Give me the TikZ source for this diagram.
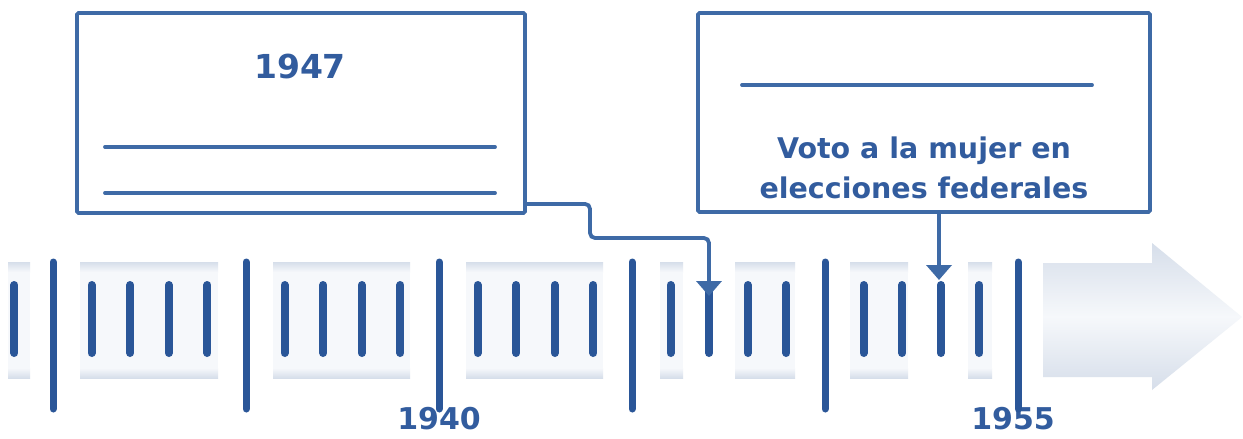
\documentclass[tikz,border=0pt]{standalone}
\usepackage{fontspec}
\setmainfont{DejaVu Sans}
\usetikzlibrary{arrows.meta,calc}
\definecolor{tickc}{RGB}{42,86,152}
\definecolor{boxc}{RGB}{62,106,166}
\definecolor{txtc}{RGB}{50,92,158}
\definecolor{bandc}{RGB}{214,222,234}
\definecolor{bandfill}{RGB}{246,248,251}
\begin{document}
\begin{tikzpicture}[x=1pt,y=-1pt,
  eventbox/.style={draw=boxc, line width=3.8pt, fill=white, rounded corners=1.5pt, inner sep=0pt},
  blankline/.style={draw=boxc, line width=3.8pt, line cap=round},
  bigtick/.style={draw=tickc, line width=7pt, line cap=round},
  smalltick/.style={draw=tickc, line width=8pt, line cap=round},
  conn/.style={draw=boxc, line width=3.8pt, rounded corners=5pt, -{Triangle[width=25pt,length=15pt]}},
  yearlabel/.style={text=txtc, font=\fontsize{30}{36}\selectfont\bfseries, inner sep=0pt},
  edgetop/.style={top color=bandc, bottom color=bandfill},
  edgebot/.style={top color=bandfill, bottom color=bandc},
  arrowshade/.style={top color=bandc, bottom color=bandc, middle color=bandfill}
]
\useasboundingbox (0,0) rectangle (1243,439);
\fill[white] (0,0) rectangle (1243,439);

% band segments
\foreach \a/\b in {8/30, 80/218, 273/410, 466/603, 660/683, 735/795, 850/908, 968/992}{
  \fill[bandfill] (\a,263) rectangle (\b,377);
  \shade[edgetop] (\a,262) rectangle (\b,272);
  \shade[edgebot] (\a,368) rectangle (\b,378);
}
% arrow
\shade[arrowshade] (1043,263) -- (1152,263) -- (1152,243) -- (1242,317) -- (1152,390) -- (1152,377) -- (1043,377) -- cycle;

% year labels
\node[yearlabel] (y1940) at (439,419) {1940};
\node[yearlabel] (y1955) at (1013,419) {1955};

% ticks
\foreach \k in {0,...,5}{
  \draw[bigtick] ({53+193*\k},262) -- ({53+193*\k},409);
}
\foreach \j in {-1,...,24}{
  \pgfmathtruncatemacro\m{mod(\j+5,5)}
  \ifnum\m=0\relax\else
    \draw[smalltick] ({53+38.6*\j},285) -- ({53+38.6*\j},353);
  \fi
}

% boxes
\node[eventbox, minimum width=448pt, minimum height=200pt] (box1) at (301,113) {};
\node[eventbox, minimum width=452pt, minimum height=199pt] (box2) at (924,112.5) {};

\node[text=txtc, font=\fontsize{33}{40}\selectfont\bfseries, inner sep=0pt] (t47) at (300,67) {1947};
\draw[blankline] (105,147) -- (495,147);
\draw[blankline] (105,193) -- (495,193);

\draw[blankline] (742,85) -- (1092,85);
\node[text=txtc, font=\fontsize{28.5}{40}\selectfont\bfseries, align=center, inner sep=0pt] (t53) at (924,168) {Voto a la mujer en\\elecciones federales};

% connectors
\coordinate (c1947) at (709,296);
\coordinate (c1953) at (939,280);
\draw[conn] ([yshift=11pt]box1.south east) -| (590,238) -| (c1947);
\draw[conn] (box2.south -| c1953) -- (c1953);
\end{tikzpicture}
\end{document}
